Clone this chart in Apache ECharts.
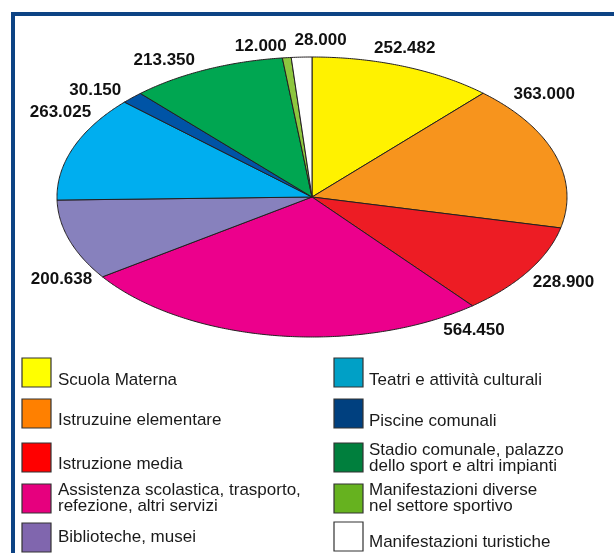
<!DOCTYPE html>
<html><head><meta charset="utf-8">
<script src="https://cdn.jsdelivr.net/npm/echarts/dist/echarts.min.js"></script>
<style>html,body{margin:0;padding:0;background:#fff}#c{width:614px;height:553px}</style>
</head><body><div id="c"></div>
<script>
// ---- data ----
const categories = [
  'Scuola Materna',
  'Istruzuine elementare',
  'Istruzione media',
  'Assistenza scolastica, trasporto,\nrefezione, altri servizi',
  'Biblioteche, musei',
  'Teatri e attività culturali',
  'Piscine comunali',
  'Stadio comunale, palazzo\ndello sport e altri impianti',
  'Manifestazioni diverse\nnel settore sportivo',
  'Manifestazioni turistiche'
];
const values = [252482, 363000, 228900, 564450, 200638, 263025, 30150, 213350, 12000, 28000];

// ---- styles / layout (kept apart from data) ----
const sliceColors = ['#fff200','#f7941d','#ed1c24','#ec008c','#8781bd','#00aeef','#0054a6','#00a651','#8dc63f','#ffffff'];
const legendColors = ['#ffff00','#ff8000','#ff0000','#e6007e','#8066ae','#00a0c6','#00407f','#007f3d','#66b21f','#ffffff'];
const labelNudge = [[1,-18],[-11,-61],[35,11],[198,-5],[-8,39],[-13,-35],[-37,-7],[-42,-9],[-26,-11],[19,-17]];
const legendSlots = [
  [22,358,58,380],[22,399,58,420],[22,443,58,464],[22,484,58,498.5],[22,523,58,537],
  [334,358,369,380],[334,399,369,421],[334,443,369,458],[334,484,369,498.5],[334,522,369,542]
];
const CX = 312, CY = 197, RX = 255, RY = 140;

const total = values.reduce((a, b) => a + b, 0);
const cum = []; let acc = 0; values.forEach(v => { cum.push(acc); acc += v; });
function pt(t) { return [CX + RX * Math.sin(t), CY - RY * Math.cos(t)]; }
function fmt(v) { return String(v).replace(/\B(?=(\d{3})+(?!\d))/g, '.'); }

const chart = echarts.init(document.getElementById('c'), null, {renderer: 'canvas'});

const graphics = [{
  type: 'rect', z: 1, shape: {x: 13, y: 14, width: 700, height: 700},
  style: {fill: 'none', stroke: '#0d4384', lineWidth: 4}
}];
categories.forEach((name, i) => {
  const s = legendSlots[i];
  graphics.push({type: 'rect', z: 5, shape: {x: s[0], y: s[1], width: 29, height: 29},
    style: {fill: legendColors[i], stroke: '#333', lineWidth: 1.2}});
  graphics.push({type: 'text', z: 5, x: s[2], y: s[3],
    style: {text: name, font: '17px "Liberation Sans", Arial, sans-serif', fill: '#1a1a1a',
      lineHeight: 16, align: 'left', verticalAlign: 'middle'}});
});

chart.setOption({
  animation: false,
  backgroundColor: '#ffffff',
  graphic: graphics,
  series: [{
    type: 'custom',
    coordinateSystem: 'none',
    data: values.map((v, i) => ({name: categories[i], value: [v]})),
    renderItem: function (params, api) {
      const i = params.dataIndex;
      const v = api.value(0);
      const a0 = cum[i] / total * 2 * Math.PI;
      const a1 = (cum[i] + v) / total * 2 * Math.PI;
      const n = Math.max(2, Math.ceil((a1 - a0) / (Math.PI / 360)));
      const points = [[CX, CY]];
      for (let j = 0; j <= n; j++) points.push(pt(a0 + (a1 - a0) * j / n));
      const mid = pt((a0 + a1) / 2);
      return {
        type: 'group',
        children: [
          {type: 'polygon', shape: {points: points},
            style: {fill: sliceColors[i], stroke: '#231f20', lineWidth: 1, lineJoin: 'round'}},
          {type: 'text', z2: 50, x: mid[0] + labelNudge[i][0], y: mid[1] + labelNudge[i][1],
            style: {text: fmt(v), font: 'bold 17px "Liberation Sans", Arial, sans-serif',
              fill: '#111', align: 'center', verticalAlign: 'middle'}}
        ]
      };
    }
  }]
});
</script>
</body></html>
